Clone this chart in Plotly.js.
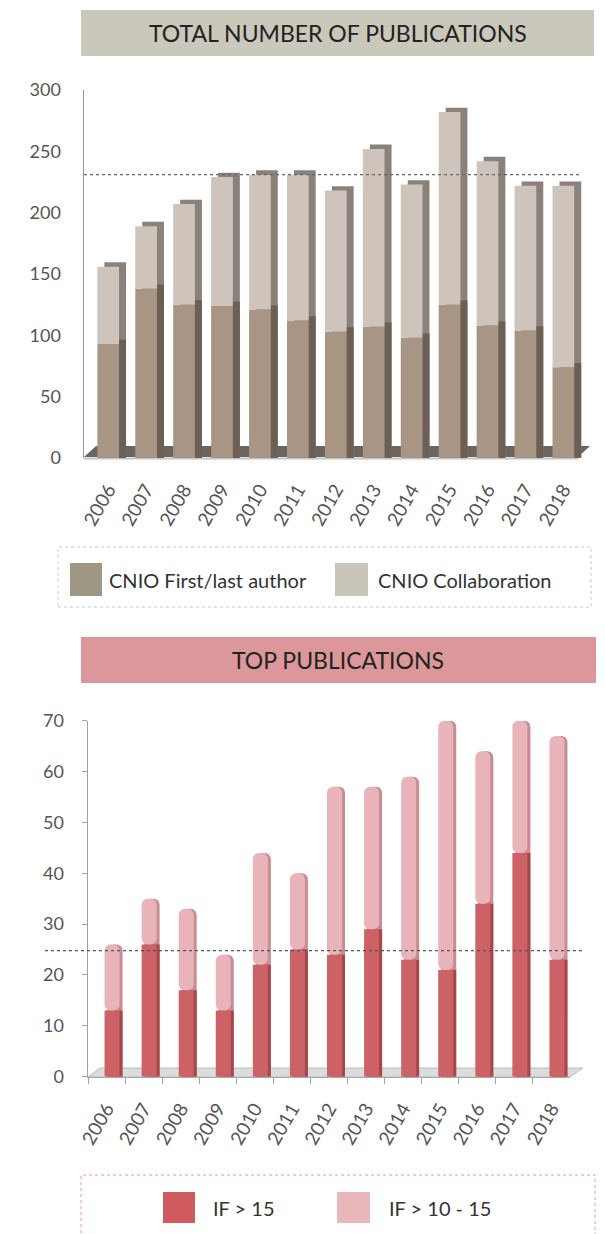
<!DOCTYPE html>
<html>
<head>
<meta charset="utf-8">
<script src="https://cdn.plot.ly/plotly-3.0.1.min.js"></script>
<style>html,body{margin:0;padding:0;background:#fff;}#chart{width:605px;height:1234px;}</style>
</head>
<body>
<div id="chart"></div>
<script>
// ---- data ----
const years = ["2006","2007","2008","2009","2010","2011","2012","2013","2014","2015","2016","2017","2018"];
const firstLast = [93,138,125,124,121,112,103,107,98,125,108,104,74];
const collaboration = [63,51,82,105,110,119,115,145,125,157,134,118,148];
const ifAbove15 = [13,26,17,13,22,25,24,29,23,21,34,44,23];
const if10to15 = [13,9,16,11,22,15,33,28,36,49,30,26,44];
const refLineTotal = 231;
const refLineTop = 24.8;
const titleTop = "TOTAL NUMBER OF PUBLICATIONS";
const titleBottom = "TOP PUBLICATIONS";
const namesTop = ["CNIO First/last author", "CNIO Collaboration"];
const namesBottom = ["IF > 15", "IF > 10 - 15"];

// ---- helpers (page pixels -> paper) ----
const W = 605, H = 1234;
const X = p => p / W;
const Y = p => 1 - p / H;
const FONT = "Lato, 'Open Sans', sans-serif";

const totalTop = firstLast.map((v, i) => v + collaboration[i]);
const totalBottom = ifAbove15.map((v, i) => v + if10to15[i]);

// top chart geometry
const topPxPerCat = 37.93;
const wTop = 21.7 / topPxPerCat;
const dxTop = 7 / topPxPerCat;
const lidTop = 3.5;
// bottom chart geometry
const botPxPerCat = 37.08;
const wBot = 15 / botPxPerCat;
const shiftBot = 5.5 / botPxPerCat;
const dxBot = 3 / botPxPerCat;

function bar(opts) {
  return Object.assign({type: "bar", hoverinfo: "skip", showlegend: false,
    marker: {line: {width: 0}}}, opts);
}

const traces = [
  // top chart: side faces
  bar({x: years, y: totalTop.map(v => v + lidTop), width: wTop, offset: -wTop/2 + dxTop,
       marker: {color: "#8b817b", line: {width: 0}}, xaxis: "x", yaxis: "y"}),
  bar({x: years, y: firstLast.map(v => v + lidTop), width: wTop, offset: -wTop/2 + dxTop,
       marker: {color: "#6c5f55", line: {width: 0}}, xaxis: "x", yaxis: "y"}),
  // top chart: fronts
  bar({x: years, y: firstLast, width: wTop, offset: -wTop/2, name: namesTop[0],
       marker: {color: "#a89584", line: {width: 0}}, xaxis: "x", yaxis: "y"}),
  bar({x: years, y: collaboration, base: firstLast, width: wTop, offset: -wTop/2, name: namesTop[1],
       marker: {color: "#cfc4bb", line: {width: 0}}, xaxis: "x", yaxis: "y"}),
  // bottom chart: shaded edges
  bar({x: years, y: totalBottom, width: wBot, offset: -wBot/2 + shiftBot + dxBot,
       marker: {color: "#c78d93", cornerradius: 6, line: {width: 0}}, xaxis: "x2", yaxis: "y2"}),
  bar({x: years, y: ifAbove15, width: wBot, offset: -wBot/2 + shiftBot + dxBot,
       marker: {color: "#a5474b", line: {width: 0}}, xaxis: "x2", yaxis: "y2"}),
  // bottom chart: fronts
  bar({x: years, y: ifAbove15, width: wBot, offset: -wBot/2 + shiftBot, name: namesBottom[0],
       marker: {color: "#cd6266", line: {width: 0}}, xaxis: "x2", yaxis: "y2"}),
  bar({x: years, y: if10to15, base: ifAbove15, width: wBot, offset: -wBot/2 + shiftBot, name: namesBottom[1],
       marker: {color: "#e9b4b9", cornerradius: 6, line: {width: 0}}, xaxis: "x2", yaxis: "y2"})
];

const tickFont = {family: FONT, size: 18, color: "#555"};

const shapes = [
  // title boxes
  {type: "rect", xref: "paper", yref: "paper", x0: X(81), x1: X(594), y0: Y(56), y1: Y(10),
   fillcolor: "#cac7bb", line: {width: 0}, layer: "below"},
  {type: "rect", xref: "paper", yref: "paper", x0: X(81), x1: X(596), y0: Y(683), y1: Y(637),
   fillcolor: "#db979a", line: {width: 0}, layer: "below"},
  // top floor
  {type: "path", xref: "paper", yref: "paper", layer: "below",
   path: `M${X(84)},${Y(457)} L${X(578)},${Y(457)} L${X(590)},${Y(446)} L${X(96)},${Y(446)} Z`,
   fillcolor: "#6b6562", line: {width: 0}},
  {type: "line", xref: "paper", yref: "paper", layer: "below", x0: X(84), x1: X(578), y0: Y(458.5), y1: Y(458.5),
   line: {color: "#c4c4c4", width: 2}},
  // bottom floor
  {type: "path", xref: "paper", yref: "paper", layer: "below",
   path: `M${X(88)},${Y(1077)} L${X(570)},${Y(1077)} L${X(583)},${Y(1068)} L${X(100)},${Y(1068)} Z`,
   fillcolor: "#dcdcdc", line: {color: "#bdbdbd", width: 1}},
  // reference lines
  {type: "line", xref: "paper", yref: "y", x0: X(84), x1: X(580), y0: refLineTotal, y1: refLineTotal,
   line: {color: "#666", width: 1.2, dash: "dot"}},
  {type: "line", xref: "paper", yref: "y2", x0: X(45), x1: X(583), y0: refLineTop, y1: refLineTop,
   line: {color: "#555", width: 1.2, dash: "dot"}},
  // legend boxes
  {type: "rect", xref: "paper", yref: "paper", x0: X(58), x1: X(591), y0: Y(607), y1: Y(547),
   line: {color: "#c8c8c8", width: 1, dash: "dot"}, fillcolor: "rgba(0,0,0,0)"},
  {type: "rect", xref: "paper", yref: "paper", x0: X(70), x1: X(102), y0: Y(596), y1: Y(563),
   fillcolor: "#9e9782", line: {width: 0}},
  {type: "rect", xref: "paper", yref: "paper", x0: X(335), x1: X(368), y0: Y(596), y1: Y(563),
   fillcolor: "#c9c6b9", line: {width: 0}},
  {type: "rect", xref: "paper", yref: "paper", x0: X(81), x1: X(595), y0: Y(1250), y1: Y(1175),
   line: {color: "#e39a9a", width: 1, dash: "dot"}, fillcolor: "rgba(0,0,0,0)"},
  {type: "rect", xref: "paper", yref: "paper", x0: X(163), x1: X(195), y0: Y(1223), y1: Y(1192),
   fillcolor: "#cf5b5e", line: {width: 0}},
  {type: "rect", xref: "paper", yref: "paper", x0: X(337), x1: X(370), y0: Y(1223), y1: Y(1192),
   fillcolor: "#eab7bb", line: {width: 0}}
];

const legendFont = {family: FONT, size: 20, color: "#333"};
const annotations = [
  {text: titleTop, xref: "paper", yref: "paper", x: X(338), y: Y(33), showarrow: false,
   xanchor: "center", yanchor: "middle", font: {family: FONT, size: 23, color: "#222"}},
  {text: titleBottom, xref: "paper", yref: "paper", x: X(338), y: Y(660), showarrow: false,
   xanchor: "center", yanchor: "middle", font: {family: FONT, size: 23, color: "#222"}},
  {text: namesTop[0], xref: "paper", yref: "paper", x: X(107), y: Y(580), showarrow: false,
   xanchor: "left", yanchor: "middle", font: legendFont},
  {text: namesTop[1], xref: "paper", yref: "paper", x: X(376), y: Y(580), showarrow: false,
   xanchor: "left", yanchor: "middle", font: legendFont},
  {text: namesBottom[0], xref: "paper", yref: "paper", x: X(211), y: Y(1208), showarrow: false,
   xanchor: "left", yanchor: "middle", font: legendFont},
  {text: namesBottom[1], xref: "paper", yref: "paper", x: X(387), y: Y(1208), showarrow: false,
   xanchor: "left", yanchor: "middle", font: legendFont}
];

const layout = {
  width: W, height: H,
  margin: {l: 0, r: 0, t: 0, b: 0, pad: 0},
  paper_bgcolor: "#ffffff", plot_bgcolor: "rgba(0,0,0,0)",
  barmode: "overlay", showlegend: false,
  font: {family: FONT},
  xaxis: {domain: [X(84), X(590)], anchor: "y", type: "category",
          range: [(84 - 108.2) / topPxPerCat, (590 - 108.2) / topPxPerCat],
          showline: false, showgrid: false, zeroline: false,
          ticks: "", tickangle: -60, tickfont: Object.assign({}, tickFont, {size: 19}),
          ticklabelstandoff: 16, fixedrange: true},
  yaxis: {domain: [Y(458), Y(90)], anchor: "x", range: [0, 300], dtick: 50,
          showline: true, linecolor: "#9a9a9a", linewidth: 1.5, showgrid: false, zeroline: false,
          ticks: "", tickfont: tickFont, ticklabelstandoff: 18, fixedrange: true},
  xaxis2: {domain: [X(88), X(570)], anchor: "y2", type: "category", range: [-0.5, 12.5],
           tickson: "boundaries", ticks: "outside", ticklen: 6, tickcolor: "#a0a0a0",
           showline: true, linecolor: "#a8a8a8", linewidth: 1.5, showgrid: false, zeroline: false,
           tickangle: -60, tickfont: Object.assign({}, tickFont, {size: 19}),
           ticklabelstandoff: 12, fixedrange: true},
  yaxis2: {domain: [Y(1076.7), Y(720.7)], anchor: "x2", range: [0, 70], dtick: 10,
           showline: true, linecolor: "#a0a0a0", linewidth: 1.5, showgrid: false, zeroline: false,
           ticks: "outside", ticklen: 5, tickcolor: "#a0a0a0", tickfont: tickFont,
           ticklabelstandoff: 14, fixedrange: true},
  shapes: shapes,
  annotations: annotations
};

Plotly.newPlot("chart", traces, layout, {displayModeBar: false, staticPlot: true});
</script>
</body>
</html>
